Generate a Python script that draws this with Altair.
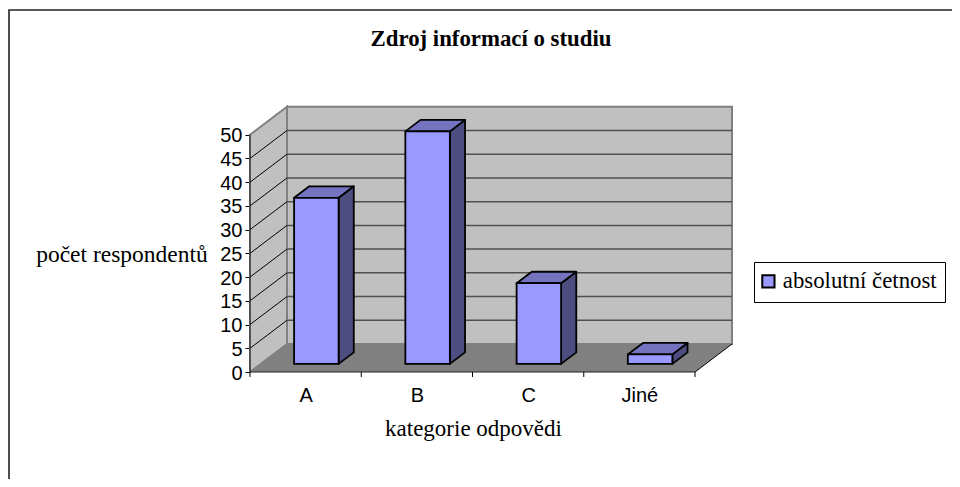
import altair as alt
import pandas as pd

categories = ["A", "B", "C", "Jiné"]
values = [35, 49, 17, 2]
y_ticks = [0, 5, 10, 15, 20, 25, 30, 35, 40, 45, 50]
grid_values = [5, 10, 15, 20, 25, 30, 35, 40, 45]
series_name = "absolutní četnost"

DX = 37 / 111.25
DY = 5.9
D0, D1 = 0.29, 0.70
GAP0, GAP1 = 0.30, 0.70
N = len(categories)
XMAX = N + DX
YMAX = 55.85

xs = alt.Scale(domain=[0, XMAX], nice=False, zero=False)
ys = alt.Scale(domain=[0, YMAX], nice=False, zero=False)

LABELS = "{" + ",".join(f"'{i + 0.5}':'{c}'" for i, c in enumerate(categories)) + "}"

x_axis = alt.Axis(
    values=[i + 0.5 for i in range(N)],
    labelExpr=f"{LABELS}[''+datum.value]",
    ticks=False, domain=False, grid=False,
    labelFont="Liberation Sans", labelFontSize=20, labelColor="black",
    labelPadding=13, labelFlush=False, labelOverlap=False,
    title="kategorie odpovědi", titleFont="Liberation Serif", titleFontSize=23,
    titleFontWeight="normal", titleColor="black", titleX=223, titleY=63,
    titleBaseline="alphabetic", titleAlign="center", titleAnchor="middle")
y_axis = alt.Axis(
    values=y_ticks, domain=False, grid=False, ticks=True, tickSize=5,
    tickColor="black", tickWidth=1,
    labelFont="Liberation Sans", labelFontSize=20, labelColor="black",
    labelPadding=3, labelOverlap=False, labelFlush=False, labelOffset=1,
    title="počet respondentů", titleFont="Liberation Serif", titleFontSize=23.5,
    titleFontWeight="normal", titleColor="black", titleAngle=0, titleX=-128.5,
    titleY=154, titleAlign="center", titleBaseline="alphabetic")


def X(f, **k):
    return alt.X(f, type="quantitative", scale=xs, axis=x_axis, **k)


def Y(f, **k):
    return alt.Y(f, type="quantitative", scale=ys, axis=y_axis, stack=None, **k)


frame = alt.Chart(pd.DataFrame({"a": [0]})).mark_rect(
    fill="white", fillOpacity=0, stroke="#222222", strokeWidth=1.6).encode(
    x=alt.value(-241), x2=alt.value(900), y=alt.value(-97), y2=alt.value(600))

left_wall = alt.Chart(pd.DataFrame({
    "x": [0, DX], "y": [50, 50 + DY], "y2": [0, DY]})).mark_area(
    color="#C0C0C0", stroke="#808080", strokeWidth=2).encode(
    x=X("x"), y=Y("y"), y2="y2")

floor = alt.Chart(pd.DataFrame({
    "y": [0, DY], "x": [0, DX], "x2": [N, N + DX]})).mark_area(
    orient="horizontal", color="#808080").encode(
    y=Y("y"), x=X("x"), x2="x2")

back_wall = alt.Chart(pd.DataFrame({
    "x": [DX], "x2": [N + DX], "y": [DY], "y2": [50 + DY]})).mark_rect(
    fill="#C0C0C0", stroke="#808080", strokeWidth=2).encode(
    x=X("x"), x2="x2", y=Y("y"), y2="y2")

back_grid = alt.Chart(pd.DataFrame({
    "x": [DX] * len(grid_values), "x2": [N + DX] * len(grid_values),
    "y": [v + DY for v in grid_values]})).mark_rule(
    color="#505050", strokeWidth=1.5).encode(x=X("x"), x2="x2", y=Y("y"))

side_rows = []
for v in grid_values:
    side_rows += [{"v": v, "x": 0, "y": v}, {"v": v, "x": DX, "y": v + DY}]
side_grid = alt.Chart(pd.DataFrame(side_rows)).mark_line(
    color="black", strokeWidth=1).encode(x=X("x"), y=Y("y"), detail="v:N")

y_line = alt.Chart(pd.DataFrame({"x": [0], "y": [0], "y2": [50]})).mark_rule(
    color="#222222", strokeWidth=1).encode(x=X("x"), y=Y("y"), y2="y2")

x_line = alt.Chart(pd.DataFrame({"x": [0], "x2": [N], "y": [0]})).mark_rule(
    color="#222222", strokeWidth=1).encode(x=X("x"), x2="x2", y=Y("y"))

floor_edge = alt.Chart(pd.DataFrame({"x": [N, N + DX], "y": [0, DY]})).mark_line(
    color="black", strokeWidth=1).encode(x=X("x"), y=Y("y"))

x_ticks = alt.Chart(pd.DataFrame({
    "x": list(range(N + 1)), "y": [0] * (N + 1), "y2": [-1.05] * (N + 1)})).mark_rule(
    color="black", strokeWidth=1).encode(x=X("x"), y=Y("y"), y2="y2")

side_rows, top_rows, front_rows = [], [], []
for i, (c, v) in enumerate(zip(categories, values)):
    xl, xr = i + GAP0, i + GAP1
    for d in (D0, D1):
        side_rows.append({"c": c, "x": xr + d * DX, "y": v + d * DY, "y2": d * DY})
        top_rows.append({"c": c, "y": v + d * DY, "x": xl + d * DX, "x2": xr + d * DX})
    front_rows.append({"c": c, "s": series_name, "x": xl + D0 * DX, "x2": xr + D0 * DX,
                       "y": D0 * DY, "y2": v + D0 * DY})

sides = alt.Chart(pd.DataFrame(side_rows)).mark_area(
    color="#4D4D80", stroke="black", strokeWidth=1.8, strokeJoin="round").encode(
    x=X("x"), y=Y("y"), y2="y2", detail="c:N")

tops = alt.Chart(pd.DataFrame(top_rows)).mark_area(
    orient="horizontal", color="#7373BF", stroke="black", strokeWidth=1.8,
    strokeJoin="round").encode(
    y=Y("y"), x=X("x"), x2="x2", detail="c:N")

fronts = alt.Chart(pd.DataFrame(front_rows)).mark_rect(
    stroke="black", strokeWidth=1.8).encode(
    x=X("x"), x2="x2", y=Y("y"), y2="y2",
    color=alt.Color("s:N", scale=alt.Scale(domain=[series_name], range=["#9999FF"]),
                    legend=alt.Legend(
                        title=None, orient="none", legendX=504, legendY=155,
                        symbolType="square", symbolSize=150, symbolStrokeWidth=2,
                        symbolStrokeColor="black", symbolOffset=-5,
                        labelFont="Liberation Serif", labelFontSize=22.8, labelColor="black",
                        labelOffset=3, strokeColor="black", fillColor="white", padding=8)))

chart = alt.layer(
    frame, left_wall, floor, back_wall, back_grid, side_grid,
    y_line, x_line, floor_edge, x_ticks, sides, tops, fronts,
).properties(
    width=482, height=265,
    padding={"left": 242, "top": 99, "right": 220, "bottom": 107},
    autosize=alt.AutoSizeParams(type="none"),
    title=alt.TitleParams("Zdroj informací o studiu", font="Liberation Serif", fontSize=22.8,
                          fontWeight="bold", color="black", anchor="middle", offset=-42),
    background="white",
).configure_view(stroke=None)

chart.save("out.html", embed_options={"renderer": "svg", "actions": False})
